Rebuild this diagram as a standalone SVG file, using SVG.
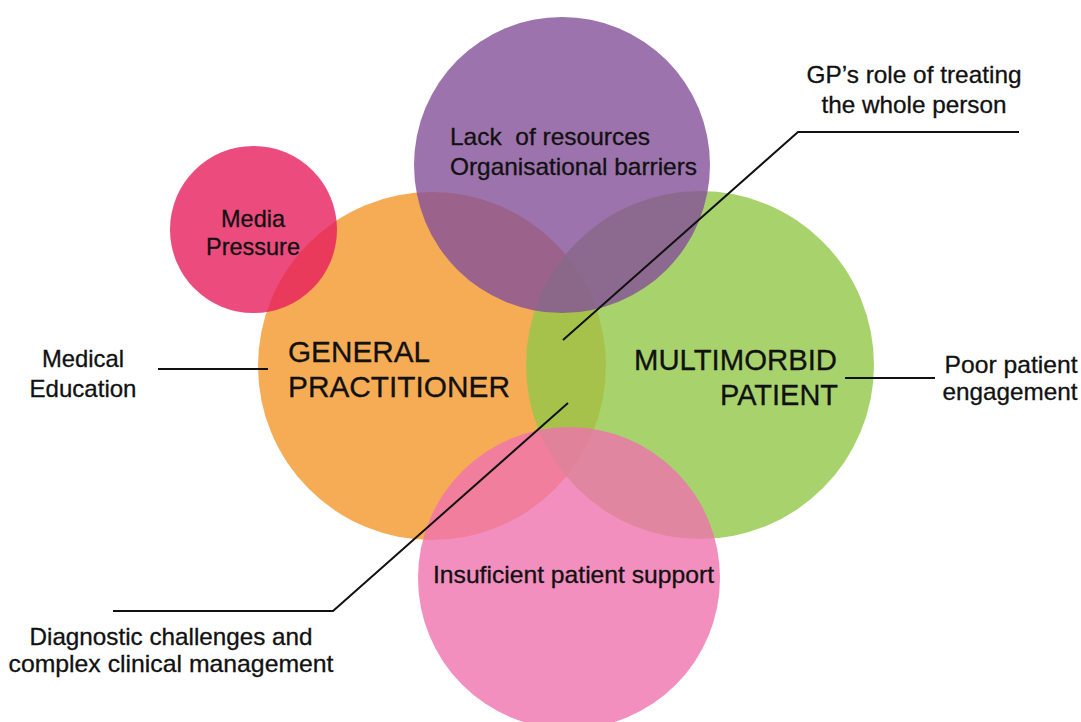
<svg xmlns="http://www.w3.org/2000/svg" width="1081" height="722" viewBox="0 0 1081 722">
<style>
.c{fill-opacity:0.8}
text{font-family:"Liberation Sans",Arial,sans-serif;fill:#111;stroke:#111;stroke-width:0.3}
.t{font-size:24px}
.b{font-size:29px}
.ln{stroke:#111;stroke-width:2;fill:none}
</style>
<rect width="1081" height="722" fill="#fff"/>
<g id="gp"><circle class="c" cx="432" cy="366" r="174" fill="#F4972B"/></g>
<g id="patient"><circle class="c" cx="700" cy="365" r="174" fill="#92C847"/></g>
<g id="resources"><circle class="c" cx="562" cy="165" r="148" fill="#845099" fill-opacity="0.82"/></g>
<g id="support"><circle class="c" cx="569" cy="578" r="151" fill="#EF73AE"/></g>
<g id="media"><circle class="c" cx="253.5" cy="229.5" r="83.5" fill="#E71E5E"/></g>
<g id="connectors">
<polyline class="ln" points="563,340 798,132 1019,132"/>
<polyline class="ln" points="568,403 333,611 113,611"/>
<line class="ln" x1="158" y1="369" x2="268" y2="369"/>
<line class="ln" x1="845" y1="378" x2="935" y2="378"/>
</g>
<g id="labels">
<text class="t" x="253" y="227" text-anchor="middle" textLength="64" lengthAdjust="spacingAndGlyphs">Media</text>
<text class="t" x="253" y="255" text-anchor="middle" textLength="94" lengthAdjust="spacingAndGlyphs">Pressure</text>
<text class="t" x="450" y="145" textLength="200" lengthAdjust="spacingAndGlyphs" xml:space="preserve">Lack  of resources</text>
<text class="t" x="450" y="175" textLength="247" lengthAdjust="spacingAndGlyphs">Organisational barriers</text>
<text class="b" x="288" y="362" textLength="142" lengthAdjust="spacingAndGlyphs">GENERAL</text>
<text class="b" x="288" y="397" textLength="222" lengthAdjust="spacingAndGlyphs">PRACTITIONER</text>
<text class="b" x="837" y="370" text-anchor="end" textLength="203" lengthAdjust="spacingAndGlyphs">MULTIMORBID</text>
<text class="b" x="838" y="405" text-anchor="end" textLength="118" lengthAdjust="spacingAndGlyphs">PATIENT</text>
<text class="t" x="433" y="583" textLength="281" lengthAdjust="spacingAndGlyphs">Insuficient patient support</text>
<text class="t" x="83" y="367" text-anchor="middle" textLength="82" lengthAdjust="spacingAndGlyphs">Medical</text>
<text class="t" x="83" y="397" text-anchor="middle" textLength="107" lengthAdjust="spacingAndGlyphs">Education</text>
<text class="t" x="914" y="83" text-anchor="middle" textLength="215" lengthAdjust="spacingAndGlyphs">GP’s role of treating</text>
<text class="t" x="914" y="113" text-anchor="middle" textLength="185" lengthAdjust="spacingAndGlyphs">the whole person</text>
<text class="t" x="1011" y="373" text-anchor="middle" textLength="133" lengthAdjust="spacingAndGlyphs">Poor patient</text>
<text class="t" x="1010" y="400" text-anchor="middle" textLength="135" lengthAdjust="spacingAndGlyphs">engagement</text>
<text class="t" x="171" y="645" text-anchor="middle" textLength="283" lengthAdjust="spacingAndGlyphs">Diagnostic challenges and</text>
<text class="t" x="171" y="672" text-anchor="middle" textLength="325" lengthAdjust="spacingAndGlyphs">complex clinical management</text>
</g>
</svg>
